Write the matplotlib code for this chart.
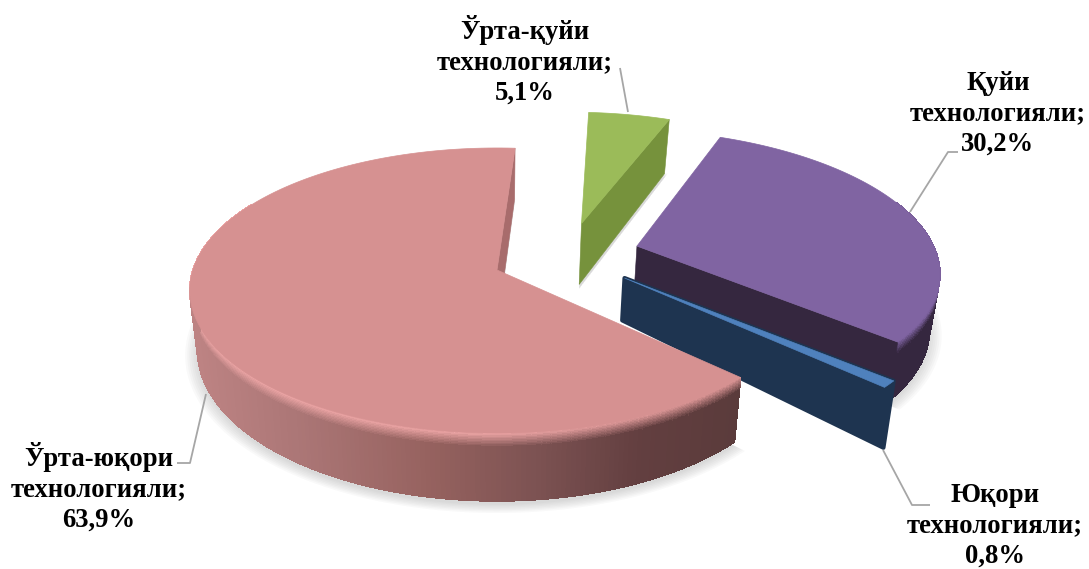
import numpy as np
import matplotlib
matplotlib.use('Agg')
import matplotlib.pyplot as plt
from matplotlib.patches import Polygon
from matplotlib.collections import PolyCollection
from matplotlib.colors import to_rgb

# ---- data
categories = ['Ўрта-қуйи\nтехнологияли', 'Қуйи\nтехнологияли', 'Юқори\nтехнологияли', 'Ўрта-юқори\nтехнологияли']
values = [5.1, 30.2, 0.8, 63.9]

# ---- styles (order matches categories)
top_colors = ['#9BBB59', '#8064A2', '#4F81BD', '#D69191']
face_colors = ['#76923C', '#35273F', '#1E3450', '#A86C6C']
offsets = [(0.292, 0.35), (0.472, 0.1755), (0.416, -0.057), (0.0, 0.0)]
thick_rim = [64, 55, 60, 58]
thick_apex = [64, 50, 42, 58]
shadow_on = [True, True, False, True]
start_angle = 3.9
label_pos = [(525, 60), (998, 114), (995, 526), (99, 487)]
leaders = [[(620, 68), (628, 112)],
           [(958, 152), (948, 152), (910, 212)],
           [(883, 450), (912, 505), (930, 505)],
           [(177, 463), (190, 463), (206, 394)]]

# projection parameters (pixel geometry of the 3-D pie)
CX, CY, A, B, K, CONV = 497.0, 270.0, 304.0, 139.6, 0.144, 0.025


def project(u, v, z=0.0, ref=58.0):
    u, v = np.asarray(u, float), np.asarray(v, float)
    w = 1 + K * v
    x = CX + A * u / w
    y = CY - B * v / w + z / w
    x = CX + (x - CX) * (1 - CONV * z / ref)
    return x, y


def rim(th, off, r=1.0):
    t = np.radians(th)
    return off[0] + r * np.sin(t), off[1] + r * np.cos(t)


def mix(a, b, t):
    return tuple((1 - t) * np.array(a) + t * np.array(b))


fig = plt.figure(figsize=(10.89, 5.69), dpi=100)
ax = fig.add_axes([0, 0, 1, 1])
ax.set_xlim(0, 1089)
ax.set_ylim(569, 0)
ax.axis('off')

edges = start_angle + np.concatenate([[0], np.cumsum(values)]) * 3.6


def outline(a0, a1, off, z, r=1.0, extra=(0, 0)):
    th = np.linspace(a0, a1, 160)
    us, vs = rim(th, off, r)
    xa, ya = project(off[0], off[1], z)
    x, y = project(us, vs, z)
    return np.column_stack([np.r_[xa, x] + extra[0], np.r_[ya, y] + extra[1]])


# soft shadow
for i in range(4):
    if not shadow_on[i]:
        continue
    a0, a1 = edges[i], edges[i + 1]
    for r in np.linspace(1.04, 1.0, 7):
        ax.add_patch(Polygon(outline(a0, a1, offsets[i], thick_rim[i], r, (0, 4)),
                             closed=True, fc='#7f7f7f', ec='none', alpha=0.045, zorder=1))


def wall(i, a0, a1, col_fn, hi_fn, zorder, n=200, layers=10):
    """outer cylinder wall with a soft bevel on its upper part"""
    off = offsets[i]
    h = thick_rim[i]
    th = np.linspace(a0, a1, n + 1)
    zs = np.r_[np.linspace(0, 0.2, layers), 1.0] * h
    polys, cols = [], []
    for j in range(n):
        us, vs = rim(th[j:j + 2], off)
        for m in range(len(zs) - 1):
            x0, y0 = project(us, vs, zs[m])
            x1, y1 = project(us, vs, zs[m + 1])
            polys.append([(x0[0], y0[0]), (x0[1], y0[1]), (x1[1], y1[1]), (x1[0], y1[0])])
            t = min(1.0, m / (layers - 1))
            cols.append(mix(hi_fn(x0[0]), col_fn(x0[0]), t))
    ax.add_collection(PolyCollection(polys, facecolors=cols, edgecolors=cols, linewidths=0.6,
                                     antialiased=False, zorder=zorder))


def cut_face(i, ang, color, zorder, lw=0.4):
    off = offsets[i]
    u, v = rim(ang, off)
    pts = [project(off[0], off[1], 0), project(u, v, 0),
           project(u, v, thick_rim[i]), project(off[0], off[1], thick_apex[i])]
    ax.add_patch(Polygon([(float(p[0]), float(p[1])) for p in pts], closed=True,
                         fc=color, ec=color, lw=lw, joinstyle='round', zorder=zorder))


def top_face(i, zorder):
    ax.add_patch(Polygon(outline(edges[i], edges[i + 1], offsets[i], 0), closed=True,
                         fc=top_colors[i], ec=top_colors[i], lw=0.5, zorder=zorder))


# green slice
cut_face(0, edges[1], face_colors[0], 3)
top_face(0, 4)

# purple slice
pc = to_rgb(face_colors[1])
wall(1, 70, edges[2], lambda x: pc, lambda x: to_rgb('#7A5F9B'), 5)
cut_face(1, edges[2], face_colors[1], 6)
top_face(1, 7)

# blue slice
cut_face(2, edges[2], face_colors[2], 9, lw=3)
top_face(2, 10)

# pink slice
stops_x = [195, 300, 430, 540, 640, 745]
stops_c = [to_rgb(c) for c in ['#BD8383', '#AB7676', '#96625F', '#7C5252', '#633F40', '#5A3B3B']]


def pink_wall(x):
    return tuple(np.interp(x, stops_x, [c[k] for c in stops_c]) for k in range(3))


def pink_hi(x):
    return mix(to_rgb('#EFA7A7'), to_rgb('#D69191'), np.clip((x - 480) / 260, 0, 1))


cut_face(3, edges[4], face_colors[3], 11)
wall(3, edges[3], 300, pink_wall, pink_hi, 12)
top_face(3, 13)

# leader lines
for pts in leaders:
    ax.plot(*zip(*pts), color='#A6A6A6', lw=1.3, zorder=20, solid_capstyle='butt')

# labels
for cat, val, pos in zip(categories, values, label_pos):
    txt = f"{cat};\n{val:.1f}%".replace('.', ',')
    ax.text(pos[0], pos[1], txt, ha='center', va='center', family=['Liberation Serif', 'DejaVu Serif'],
            fontweight='bold', fontsize=19.2, linespacing=1.28, color='black', zorder=21)

fig.savefig('out.png', dpi=100)
